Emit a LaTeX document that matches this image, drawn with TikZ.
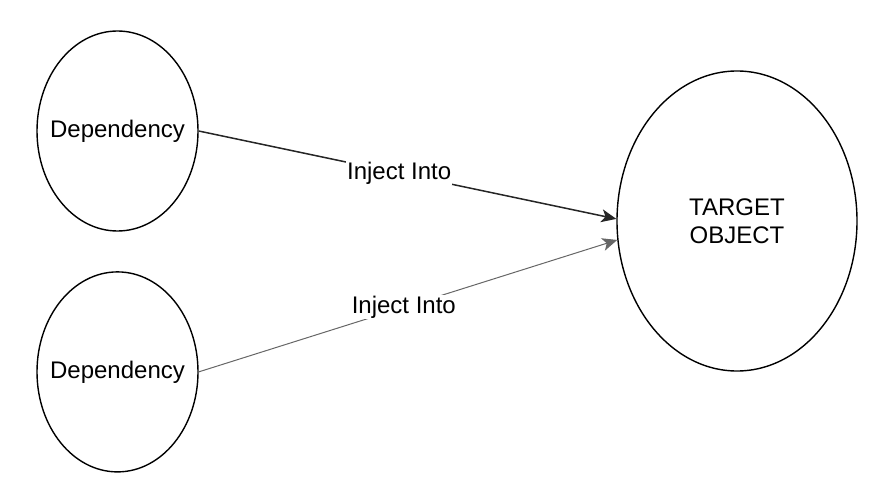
\documentclass[tikz,border=0pt]{standalone}
\usepackage{fontspec}
\setmainfont{Liberation Sans}
\usepackage{tikz}
\usetikzlibrary{shapes,arrows.meta,positioning}
\tikzstyle{dep} = [ellipse, draw, line width=1.4pt, minimum width=161pt, minimum height=200pt, inner xsep=-15pt, inner ysep=0pt]
\tikzstyle{target} = [ellipse, draw, line width=1.4pt, minimum width=240pt, minimum height=300pt, align=center, inner sep=0pt]
\tikzstyle{injectarrow} = [-{Stealth[length=15pt,width=13pt,inset=4pt]}]
\tikzstyle{lbl} = [fill=white, inner sep=1pt]

\begin{document}
\begin{tikzpicture}[x=1pt, y=1pt, font=\fontsize{24}{28}\selectfont]
    \useasboundingbox (0,0) rectangle (880,498);
    \node[dep] (dep1) at (117.5,367) {Dependency};
    \node[dep, below=39.5pt of dep1] (dep2) {Dependency};
    \node[target] (obj) at (737,277) {TARGET\\OBJECT};
    \draw[injectarrow, line width=1.5pt, black!85] (dep1.east) -- node[lbl, pos=0.48, text=black] {Inject Into} (obj.179);
    \draw[injectarrow, line width=1pt, black!60] (dep2.east) -- node[lbl, pos=0.49, text=black] {Inject Into} (obj.189);
\end{tikzpicture}
\end{document}
